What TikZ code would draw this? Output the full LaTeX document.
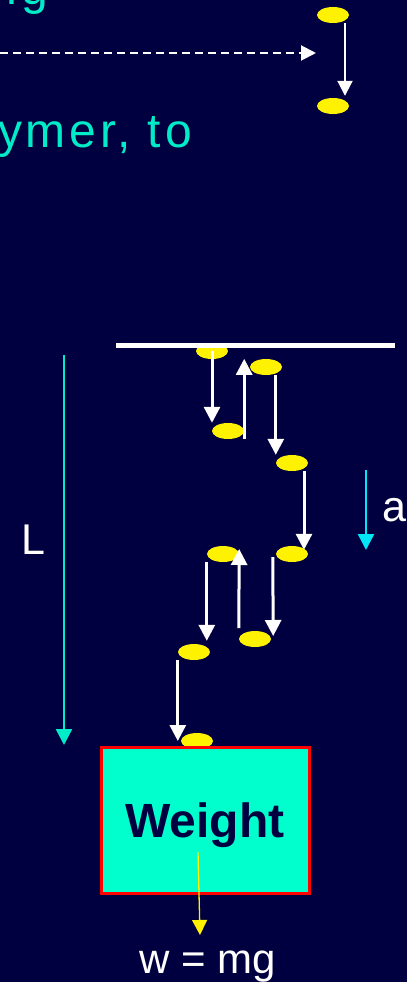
\documentclass[tikz,border=0pt]{standalone}
\usepackage{fontspec}
\setmainfont{Liberation Sans}
\newfontfamily\spacedfont[LetterSpace=8]{Liberation Sans}
\usetikzlibrary{arrows.meta,shapes.geometric,calc}

\definecolor{navy}{RGB}{0,0,64}
\definecolor{polyteal}{RGB}{0,235,200}
\definecolor{boxteal}{RGB}{0,255,204}
\definecolor{accel}{RGB}{0,230,245}

\newcommand{\bigtxt}{\spacedfont\fontsize{48}{56}\selectfont}
\newcommand{\midtxt}{\fontsize{43}{52}\selectfont}

\tikzset{
  bead/.style={ellipse, fill=yellow, minimum width=32pt, minimum height=16pt, inner sep=0pt},
  hop/.style={white, line width=3pt, -{Triangle[length=16pt,width=16pt]}},
  thinhop/.style={white, line width=2pt, -{Triangle[length=15pt,width=15pt]}},
}

\begin{document}
\begin{tikzpicture}[x=1pt, y=-1pt]
    \fill[navy] (0,0) rectangle (407,982);
    \clip (0,0) rectangle (407,982);

    % 上面的文字
    \node[anchor=base east, inner sep=0pt, text=polyteal, font=\bigtxt] (toptext) at (48,5) {ng};
    \node[anchor=base east, inner sep=0pt, text=polyteal, font=\bigtxt] (polytext) at (192,147) {ymer, to};

    % 右上角的一步
    \node[bead] (t1) at (333,15) {};
    \node[bead] (t2) at (333,106) {};
    \coordinate (dashstart) at (0,53);
    \coordinate (dashend) at (316,53);
    \draw[thinhop, dashed, dash pattern=on 8pt off 5pt] (dashstart) -- (dashend);
    \draw[thinhop] ($(t1.south)+(12,0)$) -- ($(t2.north)+(12,-2)$);

    % 链上的单体
    \node[bead] (m1) at (212,351) {};
    \node[bead] (m2) at (228,431) {};
    \node[bead] (m3) at (266,367) {};
    \node[bead] (m4) at (292,463) {};
    \node[bead] (m5) at (292,554) {};
    \node[bead] (m6) at (223,554) {};
    \node[bead] (m7) at (255,639) {};
    \node[bead] (m8) at (194,652) {};
    \node[bead] (m9) at (197,741) {};

    % 顶上的横杆
    \coordinate (barleft) at (116,345.5);
    \coordinate (barright) at (395,345.5);
    \draw[white, line width=5pt] (barleft) -- (barright);

    % 每一段的方向
    \draw[hop] (m1.center) -- (m1 |- m2.north);
    \draw[hop] (m2.east |- m2.south) -- (m2.east |- m3.north);
    \draw[hop] (m4.west |- m3.south) -- (m4.west |- m4.north);
    \draw[hop] ($(m4.south)+(12,0)$) -- ($(m5.north)+(12,4)$);
    \draw[hop] ($(m7.west)+(0,-11)$) -- ($(m6.east)+(0,-5)$);
    \draw[hop] ($(m5.west)+(-3,3)$) -- ($(m7.east)+(2,-3)$);
    \draw[hop] (m6.west |- m6.south) -- ($(m6.west |- m8.north)+(0,-3)$);
    \draw[hop] (m8.west |- m8.south) -- (m8.west |- m9);

    % 长度 L 和加速度 a
    \coordinate (Ltop) at (64,355);
    \coordinate (Lbot) at (64,745);
    \draw[polyteal, line width=2.5pt, -{Triangle[length=16pt,width=16pt]}] (Ltop) -- (Lbot);
    \node[white, font=\midtxt] (Llabel) at (33,540) {L};
    \coordinate (atop) at (366,470);
    \coordinate (abot) at (366,550);
    \draw[accel, line width=2.5pt, -{Triangle[length=16pt,width=16pt]}] (atop) -- (abot);
    \node[white, font=\midtxt, anchor=base] (alabel) at (394,521) {a};

    % 重物
    \node[draw=red, line width=3pt, fill=boxteal, minimum width=208pt, minimum height=146pt,
          text=navy, font=\bfseries\fontsize{48}{58}\selectfont, text height=35pt, text depth=0pt]
          (weight) at (205,820) {Weight};
    \node[white, font=\fontsize{42}{50}\selectfont, anchor=base] (wlabel) at (208,973) {w = mg};
    \coordinate (wtail) at (198,852);
    \coordinate (whead) at (200,935);
    \draw[yellow, line width=1.3pt, -{Triangle[length=15pt,width=15pt]}] (wtail) -- (whead);
\end{tikzpicture}
\end{document}
